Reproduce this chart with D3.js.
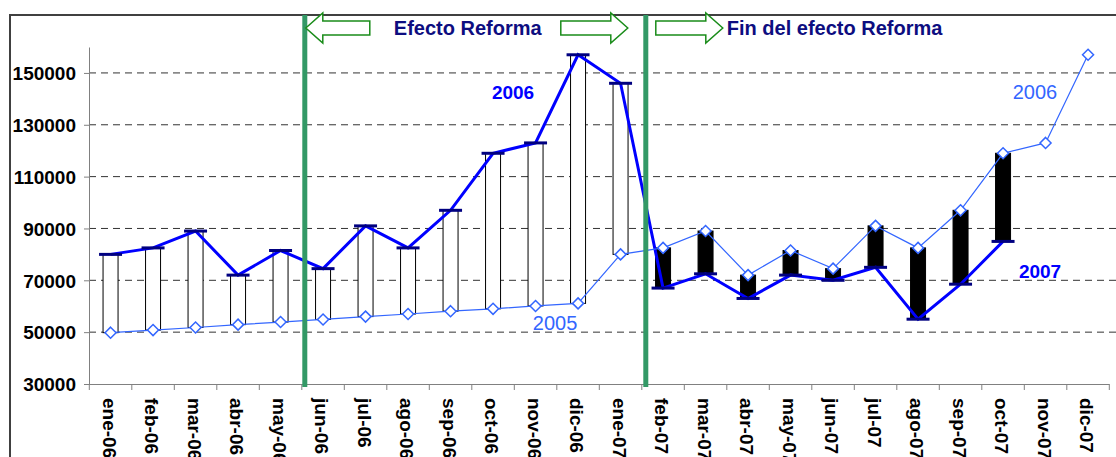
<html>
<head>
<meta charset="utf-8">
<script src="https://d3js.org/d3.v7.min.js"></script>
<style type="text/css">
  body { margin: 0; background-color: white; }
  text { font-family: Arial, 'Liberation Sans', sans-serif; }
</style>
</head>
<body>
<div id="graph"></div>
<script>

  // months on the x axis
  const months = ['ene-06','feb-06','mar-06','abr-06','may-06','jun-06','jul-06','ago-06',
    'sep-06','oct-06','nov-06','dic-06','ene-07','feb-07','mar-07','abr-07','may-07',
    'jun-07','jul-07','ago-07','sep-07','oct-07','nov-07','dic-07'];

  // current year value (thick line): 2006 then 2007
  const current = [80000, 82500, 89000, 72000, 81500, 74500, 91000, 82500, 97000, 119000,
    123000, 157000, 146000, 67000, 72500, 63000, 72000, 70000, 75000, 55000, 68500, 85000,
    null, null];

  // same month of the year before (thin line): 2005 then 2006
  const previous = [49800, 50800, 51800, 52900, 53900, 54900, 56000, 57000, 58100, 59000,
    60100, 61100, 80000, 82500, 89000, 72000, 81500, 74500, 91000, 82500, 97000, 119000,
    123000, 157000];

  const yTicks = [30000, 50000, 70000, 90000, 110000, 130000, 150000];

  // where the reform period starts and stops (month boundary index)
  const reformStart = 5, reformEnd = 13;

  // series labels: [text, month position, value, bold, colour]
  const seriesLabels = [
    ['2006', 9.97, 140000, true, '#0000ff'],
    ['2005', 10.96, 50800, false, '#3366ff'],
    ['2006', 22.25, 140000, false, '#3366ff'],
    ['2007', 22.37, 70900, true, '#0000ff']
  ];

  const W = 1116, H = 457;
  const svg = d3.select('#graph').append('svg')
    .attr('width', W).attr('height', H);

  const x = d3.scaleBand().domain(months).range([89.3, 1109.3]);
  const xi = d3.scaleLinear().domain([0, months.length]).range([89.3, 1109.3]);
  const y = d3.scaleLinear().domain([30000, 160000]).range([384, 47]);
  const bw = x.bandwidth();

  // outer chart border (cut by the picture edges)
  svg.append('path')
    .attr('d', 'M10,' + H + 'V15H' + W)
    .attr('fill', 'none').attr('stroke', '#404040').attr('stroke-width', 2);

  // grid
  svg.append('g').selectAll('line')
    .data(yTicks.filter(d => d > 30000))
    .enter().append('line')
    .attr('x1', 89).attr('x2', W)
    .attr('y1', d => y(d)).attr('y2', d => y(d))
    .attr('stroke', '#333').attr('stroke-dasharray', '7,5');

  // y axis
  const yAxis = svg.append('g')
    .attr('transform', 'translate(89,0)')
    .call(d3.axisLeft(y).tickValues(yTicks).tickSize(5).tickSizeOuter(0).tickFormat(d3.format('d')).tickPadding(8));
  yAxis.select('.domain').attr('stroke', '#808080');
  yAxis.selectAll('.tick line').attr('stroke', '#808080');
  yAxis.selectAll('text')
    .attr('font-size', 19).attr('font-weight', 'bold').attr('fill', '#000')
    .attr('dy', '0.36em');

  // x axis with ticks between months
  svg.append('line')
    .attr('x1', 89).attr('x2', xi(months.length))
    .attr('y1', 384.5).attr('y2', 384.5).attr('stroke', '#808080');
  svg.append('g').selectAll('line')
    .data(d3.range(months.length + 1))
    .enter().append('line')
    .attr('x1', d => xi(d)).attr('x2', d => xi(d))
    .attr('y1', 384).attr('y2', 390)
    .attr('stroke', '#808080');
  svg.append('g').selectAll('text')
    .data(months)
    .enter().append('text')
    .attr('transform', d => 'translate(' + (x(d) + bw / 2 - 1) + ',398) rotate(90)')
    .attr('dy', '0.36em')
    .attr('font-size', 19).attr('font-weight', 'bold')
    .text(d => d);

  // up / down bars
  const bars = months.map((m, i) => ({m: m, cur: current[i], prev: previous[i]}))
    .filter(d => d.cur != null);
  svg.append('g').selectAll('rect')
    .data(bars)
    .enter().append('rect')
    .attr('x', d => x(d.m) + bw / 2 - 7.5)
    .attr('width', 15)
    .attr('y', d => y(Math.max(d.cur, d.prev)))
    .attr('height', d => Math.abs(y(d.cur) - y(d.prev)))
    .attr('fill', d => d.cur >= d.prev ? 'white' : 'black')
    .attr('stroke', '#000').attr('stroke-width', 1);

  // thick line
  const curPts = months.map((m, i) => [x(m) + bw / 2, current[i]]).filter(d => d[1] != null);
  svg.append('path')
    .attr('d', d3.line().x(d => d[0]).y(d => y(d[1]))(curPts))
    .attr('fill', 'none').attr('stroke', '#0000ff').attr('stroke-width', 3);
  svg.append('g').selectAll('line')
    .data(curPts)
    .enter().append('line')
    .attr('x1', d => d[0] - 11.5).attr('x2', d => d[0] + 11.5)
    .attr('y1', d => y(d[1])).attr('y2', d => y(d[1]))
    .attr('stroke', '#000080').attr('stroke-width', 3);

  // thin line with diamonds
  const prevPts = months.map((m, i) => [x(m) + bw / 2, previous[i]]);
  svg.append('path')
    .attr('d', d3.line().x(d => d[0]).y(d => y(d[1]))(prevPts))
    .attr('fill', 'none').attr('stroke', '#3366ff').attr('stroke-width', 1.2);
  svg.append('g').selectAll('path')
    .data(prevPts)
    .enter().append('path')
    .attr('d', d => {
      let cx = d[0], cy = y(d[1]);
      return 'M' + cx + ',' + (cy - 5.5) + 'L' + (cx + 5.5) + ',' + cy + 'L' + cx + ',' + (cy + 5.5) + 'L' + (cx - 5.5) + ',' + cy + 'Z';
    })
    .attr('fill', 'white').attr('stroke', '#3366ff').attr('stroke-width', 1.5);

  // series labels
  svg.append('g').selectAll('text')
    .data(seriesLabels)
    .enter().append('text')
    .attr('x', d => xi(d[1]))
    .attr('y', d => y(d[2]))
    .attr('text-anchor', 'middle')
    .attr('font-size', d => d[3] ? 19 : 20)
    .attr('font-weight', d => d[3] ? 'bold' : 'normal')
    .attr('fill', d => d[4])
    .text(d => d[0]);

  // reform period markers
  const g1 = xi(reformStart) + 3, g2 = xi(reformEnd) + 4;
  svg.append('g').selectAll('line')
    .data([g1, g2])
    .enter().append('line')
    .attr('x1', d => d).attr('x2', d => d)
    .attr('y1', 15).attr('y2', 387)
    .attr('stroke', '#339966').attr('stroke-width', 5);

  function arrow(tip, dir, len) {
    // dir = 1 points right, -1 points left
    let hb = tip - dir * 17, se = tip - dir * len;
    return 'M' + tip + ',28L' + hb + ',13V21H' + se + 'V35H' + hb + 'V43Z';
  }
  svg.append('g').selectAll('path')
    .data([arrow(g1 + 1, -1, 64), arrow(g2 - 18, 1, 67), arrow(g2 + 77, 1, 67)])
    .enter().append('path')
    .attr('d', d => d)
    .attr('fill', 'white').attr('stroke', '#1a8c1a').attr('stroke-width', 1.5);

  svg.append('text')
    .attr('x', g1 + 89).attr('y', 35)
    .attr('font-size', 20).attr('font-weight', 'bold').attr('fill', '#0d0d80')
    .text('Efecto Reforma');
  svg.append('text')
    .attr('x', g2 + 81).attr('y', 35)
    .attr('font-size', 20).attr('font-weight', 'bold').attr('fill', '#0d0d80')
    .text('Fin del efecto Reforma');

</script>
</body>
</html>
